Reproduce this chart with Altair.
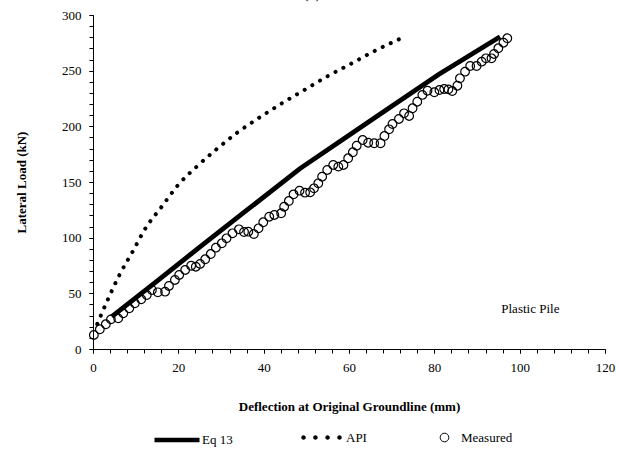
import altair as alt
import pandas as pd

# ---------------- data ----------------
eq13_x = [4.4, 15, 25, 35, 48.5, 60, 70, 81, 95.4]
eq13_y = [29, 61, 91.5, 121.5, 162, 192, 218, 246.5, 280.5]

api_x = [1.0, 3.6, 6.2, 9.5, 12.2, 16.1, 19.8, 24.3, 29.0, 33.9, 39.1, 44.5,
         49.9, 55.2, 60.8, 66.3, 72.0]
api_y = [22.5, 45.5, 66.5, 88.9, 107.8, 127.8, 146.7, 163.8, 179.6, 194.6,
         208.1, 221.2, 233.5, 245.5, 256.9, 268.3, 278.7]

meas_x = [0.2, 1.6, 3.0, 4.2, 5.9, 7.1, 8.5, 9.8, 11.3, 12.6, 13.8, 15.2, 16.9,
          17.8, 19.2, 20.2, 21.6, 23.0, 24.1, 25.1, 26.3, 27.6, 28.8, 30.2,
          31.3, 32.7, 34.2, 35.4, 36.4, 37.7, 38.8, 39.9, 41.3, 42.5, 44.1,
          44.8, 45.9, 47.0, 48.4, 49.7, 50.9, 51.8, 52.8, 53.7, 54.9, 56.3,
          57.5, 58.7, 59.8, 60.9, 61.8, 63.2, 64.5, 65.9, 67.4, 68.3, 69.4,
          70.2, 71.7, 72.9, 74.1, 74.9, 76.0, 77.2, 78.4, 80.0, 81.2, 82.3,
          83.3, 84.2, 85.4, 86.0, 87.2, 88.4, 89.9, 91.1, 92.1, 93.4, 94.0,
          95.0, 96.2, 97.1]
meas_y = [12.6, 17.7, 22.2, 26.6, 27.5, 32.0, 36.5, 41.0, 44.6, 48.5, 53.0,
          50.9, 51.5, 56.6, 62.0, 66.5, 71.0, 74.8, 73.9, 76.4, 80.6, 85.3,
          91.0, 94.9, 99.4, 103.9, 107.5, 105.1, 105.4, 103.3, 108.4, 113.8,
          118.8, 120.4, 121.9, 127.8, 132.9, 138.9, 142.2, 140.4, 140.7,
          144.3, 148.8, 154.8, 160.8, 165.3, 163.8, 165.3, 171.3, 176.7,
          182.6, 187.7, 185.3, 184.8, 184.8, 191.3, 197.3, 202.1, 206.6,
          211.7, 209.3, 216.2, 222.1, 228.2, 232.0, 230.6, 232.6, 233.5,
          233.2, 231.7, 236.5, 243.1, 249.1, 254.2, 254.2, 258.1, 261.1,
          261.1, 265.0, 270.1, 275.1, 279.1]

note_x = [102.5]
note_y = [36]
note_text = ["Plastic Pile"]

x_major = list(range(0, 121, 20))
x_minor = list(range(0, 121, 4))
y_major = list(range(0, 301, 50))
y_minor = list(range(0, 301, 10))

FONT = "Liberation Serif"

eq13 = pd.DataFrame({"x": eq13_x, "y": eq13_y, "series": "Eq 13"})
api = pd.DataFrame({"x": api_x, "y": api_y, "series": "API"})
meas = pd.DataFrame({"x": meas_x, "y": meas_y, "series": "Measured"})
note = pd.DataFrame({"x": note_x, "y": note_y, "t": note_text})

xscale = alt.Scale(domain=[0, 120], nice=False, zero=False)
yscale = alt.Scale(domain=[0, 300], nice=False, zero=False)

xaxis = alt.Axis(values=x_major, tickSize=4, labelPadding=8, titlePadding=26,
                 grid=False, labelFlush=False, orient="bottom",
                 title="Deflection at Original Groundline (mm)")
yaxis = alt.Axis(values=y_major, tickSize=4, labelPadding=8, titlePadding=33,
                 grid=False, labelFlush=False, orient="left",
                 title="Lateral Load (kN)")
xaxis_minor = alt.Axis(values=x_minor, tickSize=4, labels=False, domain=False,
                       grid=False, title=None, orient="bottom")
yaxis_minor = alt.Axis(values=y_minor, tickSize=4, labels=False, domain=False,
                       grid=False, title=None, orient="left")

X = alt.X("x:Q", scale=xscale, axis=xaxis)
Y = alt.Y("y:Q", scale=yscale, axis=yaxis)

leg_common = dict(title=None, orient="none", padding=0,
                  labelFont=FONT, labelFontSize=13, labelColor="black")

line_eq = alt.Chart(eq13).mark_line(strokeWidth=4.8, strokeCap="butt").encode(
    x=X, y=Y,
    color=alt.Color("series:N",
                    scale=alt.Scale(domain=["Eq 13"], range=["black"]),
                    legend=alt.Legend(legendX=59, legendY=400,
                                      symbolType="stroke", symbolSize=2025,
                                      symbolStrokeWidth=4.5, labelOffset=0,
                                      **leg_common)),
)

DOTS = ("M-0.9,0a0.1,0.1 0 1,0 0.2,0a0.1,0.1 0 1,0 -0.2,0Z "
        "M-0.37,0a0.1,0.1 0 1,0 0.2,0a0.1,0.1 0 1,0 -0.2,0Z "
        "M0.17,0a0.1,0.1 0 1,0 0.2,0a0.1,0.1 0 1,0 -0.2,0Z "
        "M0.7,0a0.1,0.1 0 1,0 0.2,0a0.1,0.1 0 1,0 -0.2,0Z")

line_api = alt.Chart(api).mark_line(strokeWidth=4, strokeCap="round",
                                    color="black", interpolate="monotone").encode(
    x=X, y=Y,
    strokeDash=alt.StrokeDash("series:N",
                              scale=alt.Scale(domain=["API"], range=[[0.1, 8.8]]),
                              legend=alt.Legend(legendX=206, legendY=400,
                                                symbolType=DOTS, symbolSize=2025,
                                                symbolFillColor="black",
                                                symbolStrokeColor="black",
                                                symbolStrokeWidth=0,
                                                labelOffset=2, **leg_common)),
)

points = alt.Chart(meas).mark_point(shape="circle", filled=False, size=75,
                                    strokeWidth=1.2, color="black", opacity=1).encode(
    x=X, y=Y,
    shape=alt.Shape("series:N",
                    scale=alt.Scale(domain=["Measured"], range=["circle"]),
                    legend=alt.Legend(legendX=345, legendY=416,
                                      symbolSize=75, symbolStrokeWidth=1,
                                      symbolStrokeColor="black",
                                      labelOffset=10, **leg_common)),
)

txt = alt.Chart(note).mark_text(font=FONT, fontSize=13, color="black").encode(
    x=X, y=Y, text="t:N")

main = alt.layer(line_eq, line_api, points, txt).resolve_scale(
    color="independent", strokeDash="independent", shape="independent")

minor = alt.Chart(note).mark_point(opacity=0).encode(
    x=alt.X("x:Q", scale=xscale, axis=xaxis_minor),
    y=alt.Y("y:Q", scale=yscale, axis=yaxis_minor),
)

chart = alt.layer(main, minor).resolve_axis(
    x="independent", y="independent"
).properties(
    width=512, height=334,
    autosize="none",
    padding={"left": 93, "top": 15, "right": 14, "bottom": 115},
    title=alt.TitleParams("(a)", font=FONT, fontSize=16, fontWeight="normal",
                          offset=8, dx=-37, anchor="middle", frame="group",
                          color="black"),
).configure_view(stroke=None).configure_axis(
    domainColor="black", tickColor="black", labelColor="black",
    titleColor="black", labelFont=FONT, titleFont=FONT, labelFontSize=13,
    titleFontSize=13, titleFontWeight="bold", domainWidth=1, tickWidth=1,
)

chart.save("out.html", embed_options={"renderer": "svg", "actions": False})
